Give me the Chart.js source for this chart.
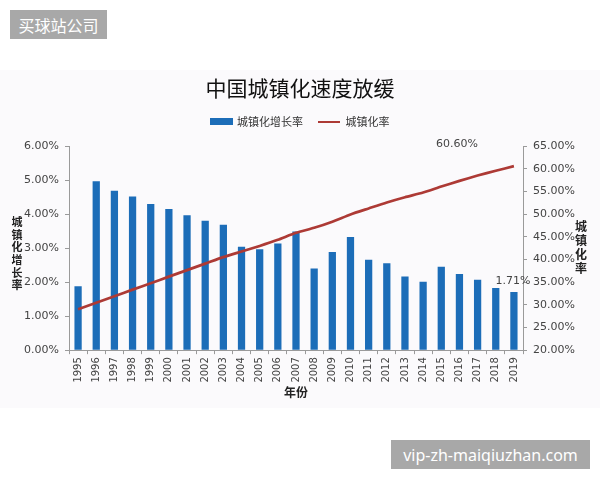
<!DOCTYPE html>
<html>
<head>
<meta charset="utf-8">
<script src="https://cdn.jsdelivr.net/npm/chart.js@4.4.0/dist/chart.umd.min.js"></script>
<style>
  html, body { margin: 0; padding: 0; background: #ffffff; }
  #wrap { position: relative; width: 600px; height: 480px; }
  canvas { position: absolute; left: 0; top: 0; }
  .wm { position: absolute; background: #a8a8a8; color: #ffffff; font-family: "Noto Sans CJK SC", "Noto Sans", sans-serif; font-size: 16px; display: flex; align-items: center; justify-content: center; }
</style>
</head>
<body>
<div id="wrap">
  <canvas id="c" width="600" height="480"></canvas>
  <div class="wm" style="left:10px;top:10px;width:97px;height:29px;">买球站公司</div>
  <div class="wm" style="left:391px;top:440px;width:199px;height:29px;font-family:'Noto Sans',sans-serif;">vip-zh-maiqiuzhan.com</div>
</div>
<script>
const years = ['1995','1996','1997','1998','1999','2000','2001','2002','2003','2004','2005','2006','2007','2008','2009','2010','2011','2012','2013','2014','2015','2016','2017','2018','2019'];
const growthRate = [1.88,4.97,4.69,4.52,4.30,4.15,3.97,3.81,3.69,3.04,2.97,3.14,3.49,2.40,2.89,3.33,2.66,2.56,2.17,2.01,2.45,2.24,2.07,1.83,1.71];
const urbanRate = [29.04,30.48,31.91,33.35,34.78,36.22,37.66,39.09,40.53,41.76,42.99,44.34,45.89,46.99,48.34,49.95,51.27,52.57,53.73,54.77,56.10,57.35,58.52,59.58,60.60];
const leftTicks = [0,1,2,3,4,5,6];
const rightTicks = [20,25,30,35,40,45,50,55,60,65];
const titleText = '中国城镇化速度放缓';
const barLabel = '城镇化增长率';
const lineLabel = '城镇化率';
const xTitle = '年份';

const BLUE = '#1c6db8';
const RED = '#ad3a35';
const CJK = '"Noto Sans CJK SC", sans-serif';

function makeSwatch(w, h, color) {
  const c = document.createElement('canvas');
  c.width = w; c.height = h;
  const g = c.getContext('2d');
  g.fillStyle = color; g.fillRect(0, 0, w, h);
  return c;
}
const barSwatch = makeSwatch(23, 7, BLUE);
const lineSwatch = makeSwatch(22, 2, RED);

const decorPlugin = {
  id: 'decor',
  beforeLayout(chart) {
    const lg = chart.legend;
    if (lg && !lg._patched) {
      const orig = lg.fit.bind(lg);
      lg.fit = function () { orig(); this.height += 9; };
      lg._patched = true;
    }
  },
  beforeDraw(chart) {
    const ctx = chart.ctx;
    ctx.save();
    ctx.fillStyle = '#fbfafc';
    ctx.fillRect(0, 70, 600, 338);
    ctx.restore();
  },
  afterDraw(chart) {
    const ctx = chart.ctx;
    ctx.save();
    ctx.fillStyle = '#222';
    ctx.font = 'bold 11px ' + CJK;
    ctx.textAlign = 'center';
    ctx.textBaseline = 'middle';
    const l = barLabel.split('');
    const ls = 12.7;
    l.forEach((ch, i) => ctx.fillText(ch, 17, 253.5 + (i - (l.length - 1) / 2) * ls));
    ctx.font = 'bold 12px ' + CJK;
    const r = lineLabel.split('');
    const rs = 13.9;
    r.forEach((ch, i) => ctx.fillText(ch, 581, 247.5 + (i - (r.length - 1) / 2) * rs));
    ctx.font = '11px "DejaVu Sans", sans-serif';
    ctx.fillStyle = '#444';
    const lm = chart.getDatasetMeta(1).data;
    const lp = lm[lm.length - 1];
    ctx.fillText(urbanRate[urbanRate.length - 1].toFixed(2) + '%', lp.x - 57, lp.y - 22);
    const bm = chart.getDatasetMeta(0).data;
    const bp = bm[bm.length - 1];
    ctx.fillText(growthRate[growthRate.length - 1].toFixed(2) + '%', bp.x - 1, bp.y - 11);
    ctx.restore();
  }
};

new Chart(document.getElementById('c'), {
  data: {
    labels: years,
    datasets: [
      {
        type: 'bar', label: barLabel, data: growthRate, yAxisID: 'y',
        backgroundColor: BLUE, borderWidth: 0,
        barPercentage: 0.5, categoryPercentage: 0.8,
        pointStyle: barSwatch, order: 2
      },
      {
        type: 'line', label: lineLabel, data: urbanRate, yAxisID: 'y2',
        borderColor: RED, backgroundColor: RED, borderWidth: 2.7,
        pointRadius: 0, tension: 0.2, pointStyle: lineSwatch, order: 1
      }
    ]
  },
  options: {
    responsive: false,
    animation: false,
    layout: { padding: { top: 70, left: 0, right: 0, bottom: 80 } },
    plugins: {
      title: {
        display: true, text: titleText, color: '#111',
        font: { family: CJK, size: 21, weight: 'normal' },
        padding: { top: 5, bottom: 0 }
      },
      legend: {
        display: true,
        labels: {
          usePointStyle: true, pointStyleWidth: 21,
          color: '#333', padding: 16,
          font: { family: CJK, size: 11 },
          sort: (a, b) => a.datasetIndex - b.datasetIndex
        }
      },
      tooltip: { enabled: false }
    },
    scales: {
      x: {
        offset: true,
        grid: { display: true, drawOnChartArea: false, drawTicks: true, tickLength: 4, color: '#9a9a9a', offset: true },
        border: { display: true, color: '#9a9a9a' },
        ticks: { minRotation: 90, maxRotation: 90, autoSkip: false, color: '#444', padding: 3, font: { family: '"DejaVu Sans", sans-serif', size: 10 } },
        title: { display: true, text: xTitle, color: '#222', font: { family: CJK, size: 12, weight: 'bold' }, padding: { top: 0, bottom: 0 } }
      },
      y: {
        position: 'left', min: 0, max: 6,
        afterBuildTicks: s => { s.ticks = leftTicks.map(v => ({ value: v })); },
        afterFit: s => { s.width = 69; },
        grid: { display: true, drawOnChartArea: false, drawTicks: true, tickLength: 4, color: '#9a9a9a' },
        border: { display: true, color: '#9a9a9a' },
        ticks: { color: '#444', padding: 6, font: { family: '"DejaVu Sans", sans-serif', size: 11 }, callback: v => Number(v).toFixed(2) + '%' }
      },
      y2: {
        position: 'right', min: 20, max: 65,
        afterBuildTicks: s => { s.ticks = rightTicks.map(v => ({ value: v })); },
        afterFit: s => { s.width = 77; },
        grid: { display: true, drawOnChartArea: false, drawTicks: true, tickLength: 4, color: '#9a9a9a' },
        border: { display: true, color: '#9a9a9a' },
        ticks: { color: '#444', padding: 6, font: { family: '"DejaVu Sans", sans-serif', size: 11 }, callback: v => Number(v).toFixed(2) + '%' }
      }
    }
  },
  plugins: [decorPlugin]
});
</script>
</body>
</html>
